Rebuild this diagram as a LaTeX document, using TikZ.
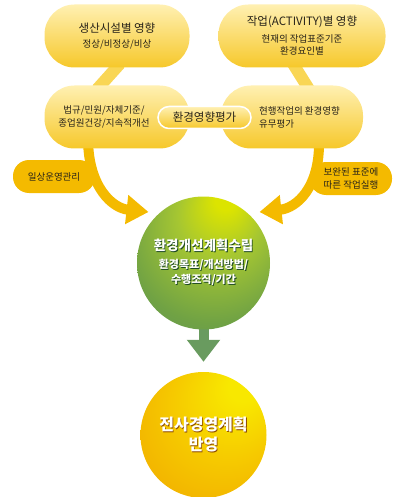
\documentclass[tikz,border=0pt]{standalone}
\usepackage{fontspec}
\setmainfont{Noto Sans CJK KR}
\usetikzlibrary{positioning,calc,arrows.meta,backgrounds}
\definecolor{PillTop}{RGB}{255,240,178}
\definecolor{PillBottom}{RGB}{246,200,42}
\definecolor{BandYellow}{RGB}{249,214,85}
\definecolor{ArrowGold}{RGB}{244,186,0}
\definecolor{TextDark}{RGB}{40,35,25}
\definecolor{LeafShadow}{RGB}{28,72,34}
\definecolor{SunShadow}{RGB}{140,75,0}
\definecolor{StemGreen}{RGB}{105,155,95}
\definecolor{GreenCore}{RGB}{220,228,0}
\definecolor{GreenLight}{RGB}{165,198,50}
\definecolor{GreenMid}{RGB}{112,162,68}
\definecolor{GreenEdge}{RGB}{82,134,104}
\definecolor{SunCore}{RGB}{248,232,0}
\definecolor{SunLight}{RGB}{246,202,0}
\definecolor{SunMid}{RGB}{241,172,0}
\definecolor{SunEdge}{RGB}{236,156,0}
\pgfdeclareradialshading{greenball}{\pgfpoint{9bp}{26bp}}{color(0bp)=(GreenCore); color(4bp)=(GreenCore); color(16bp)=(GreenLight); color(32bp)=(GreenMid); color(50bp)=(GreenEdge)}
\pgfdeclareradialshading{sunball}{\pgfpoint{18bp}{22bp}}{color(0bp)=(SunCore); color(6bp)=(SunCore); color(22bp)=(SunLight); color(40bp)=(SunMid); color(50bp)=(SunEdge)}
\newcommand{\glowtext}[2]{\leavevmode\rlap{\kern0.9pt\raisebox{-0.9pt}{\textcolor{#1}{#2}}}\textcolor{white}{#2}}

\begin{document}
\begin{tikzpicture}[x=1pt, y=-1pt,
  pill/.style={rounded corners=30pt, top color=PillTop, bottom color=PillBottom, text=TextDark, align=center, inner sep=0pt},
  tag/.style={rounded corners=16pt, fill=ArrowGold, text=TextDark, minimum height=33pt, minimum width=82pt, align=center, inner sep=0pt, font=\fontsize{9.5}{13}\selectfont},
  band/.style={BandYellow, line width=12pt},
  flow/.style={ArrowGold, line width=10pt, -{Triangle[length=22pt,width=28pt]}},
  stem/.style={StemGreen, line width=10pt, -{Triangle[length=22pt,width=32pt]}}]
  \useasboundingbox (0,0) rectangle (396,497);

  % Impact sources
  \node[pill, minimum width=145pt, minimum height=63pt, font=\fontsize{9.5}{15}\selectfont] (plant) at (117,36)
    {{\fontsize{11.5}{15}\selectfont 생산시설별 영향}\\정상/비정상/비상};
  \node[pill, minimum width=167pt, minimum height=63pt, font=\fontsize{9.5}{12}\selectfont] (work) at (302,36)
    {{\fontsize{11.5}{15}\selectfont 작업(ACTIVITY)별 영향}\\[5pt]현재의 작업표준기준\\환경요인별};

  % Assessment row
  \node[pill, minimum width=145pt, minimum height=63pt,
    label={[font=\fontsize{9.5}{13}\selectfont, text=TextDark, align=center, xshift=-13pt]center:법규/민원/자체기준/\\종업원건강/지속적개선}] (law) at (117,117) {};
  \node[pill, minimum width=142pt, minimum height=63pt,
    label={[font=\fontsize{9.5}{13}\selectfont, text=TextDark, align=left, xshift=7.5pt]center:현행작업의 환경영향\\유무평가}] (check) at (292,117) {};
  \node[pill, rounded corners=11pt, draw=white, line width=1.5pt, minimum width=93pt, minimum height=22pt,
    font=\fontsize{11.5}{13}\selectfont] (assess) at (204.5,117.5) {환경영향평가};

  % Plan and report
  \node[circle, shade, shading=greenball, minimum size=133pt, inner sep=0pt, align=center,
    font=\fontsize{11}{15}\selectfont\bfseries] (plan) at (203.5,263)
    {{\fontsize{13.5}{17}\selectfont\glowtext{LeafShadow}{환경개선계획수립}}\\[3pt]
     \glowtext{LeafShadow}{환경목표/개선방법/}\\\glowtext{LeafShadow}{수행조직/기간}};
  \node[circle, shade, shading=sunball, minimum size=126pt, inner sep=0pt, align=center,
    font=\fontsize{16}{20}\selectfont\bfseries] (report) at (203.5,435)
    {\glowtext{SunShadow}{전사경영계획}\\\glowtext{SunShadow}{반영}};

  \coordinate (lt) at ($(plan.center)+(-55,-51)$);
  \coordinate (rt) at ($(plan.center)+(56,-51)$);

  % Connectors
  \begin{scope}[on background layer]
    \draw[band] ($(plant.south)+(3,-4)$) -- ($(law.north)+(-20,4)$);
    \draw[band] ($(work.south)+(-9,-4)$) -- ($(check.north)+(17,4)$);
    \draw[flow] ($(law.south)+(-29,-8)$) .. controls +(1,47) and +(-36,-4) .. (lt);
    \draw[flow] ($(check.south)+(27,-8)$) .. controls +(1,47) and +(37,-4) .. (rt);
    \draw[stem] ($(plan.south)+(0,-12)$) -- ($(report.north)+(0,-10)$);
  \end{scope}

  % Side tags
  \node[tag] (daily) at (54,176.5) {일상운영관리};
  \node[tag] (revise) at (351,178.5) {보완된 표준에\\따른 작업실행};
\end{tikzpicture}
\end{document}
